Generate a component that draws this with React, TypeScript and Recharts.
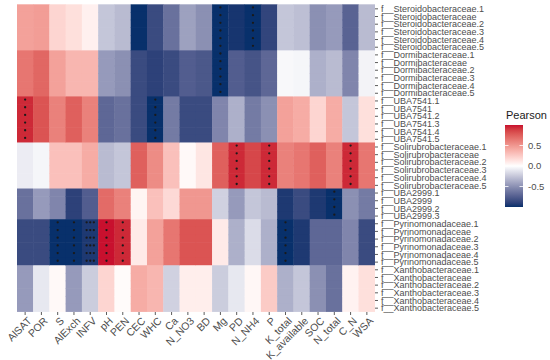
import React from 'react';
import { BarChart, Bar, XAxis, YAxis } from 'recharts';

// environmental variables (heatmap columns)
const columns = [
  'AlSAT', 'POR', 'S', 'AlExch', 'INFV', 'pH', 'PEN', 'CEC', 'WHC', 'Ca', 'N_NO3',
  'BD', 'Mg', 'PD', 'N_NH4', 'P', 'K_total', 'K_available', 'SOC', 'N_total', 'C_N', 'WSA',
];

// row labels per family, Pearson r per column, and significance marks (1 = *, 3 = ***)
const steroidoRows = [
  'f__Steroidobacteraceae.1', 'f__Steroidobacteraceae', 'f__Steroidobacteraceae.2',
  'f__Steroidobacteraceae.3', 'f__Steroidobacteraceae.4', 'f__Steroidobacteraceae.5',
];
const steroidoValues = [0.45, 0.47, 0.2, 0.15, 0.07, -0.25, -0.3, -1.0, -0.85, -0.65, -0.42, -0.5, -1.0, -0.97, -1.0, -0.88, -0.25, -0.28, -0.5, -0.45, -0.72, -0.3];
const steroidoStars = [0, 0, 0, 0, 0, 0, 0, 0, 0, 0, 0, 0, 1, 0, 1, 0, 0, 0, 0, 0, 0, 0];

const dormiRows = [
  'f__Dormibacteraceae.1', 'f__Dormibacteraceae', 'f__Dormibacteraceae.2',
  'f__Dormibacteraceae.3', 'f__Dormibacteraceae.4', 'f__Dormibacteraceae.5',
];
const dormiValues = [0.65, 0.72, 0.45, 0.35, 0.35, -0.45, -0.5, -0.85, -0.9, -0.85, -0.75, -0.78, -1.0, -0.75, -0.8, -0.7, -0.03, -0.04, -0.35, -0.3, -0.55, -0.05];
const dormiStars = [0, 0, 0, 0, 0, 0, 0, 0, 0, 0, 0, 0, 1, 0, 0, 0, 0, 0, 0, 0, 0, 0];

const uba7541Rows = [
  'f__UBA7541.1', 'f__UBA7541', 'f__UBA7541.2', 'f__UBA7541.3', 'f__UBA7541.4', 'f__UBA7541.5',
];
const uba7541Values = [0.95, 0.8, 0.6, 0.75, 0.6, -0.7, -0.65, -0.85, -1.0, -0.6, -0.85, -0.85, -0.55, -0.35, -0.6, -0.5, 0.45, 0.4, 0.2, 0.4, -0.25, 0.15];
const uba7541Stars = [1, 0, 0, 0, 0, 0, 0, 0, 1, 0, 0, 0, 0, 0, 0, 0, 0, 0, 0, 0, 0, 0];

const soliRows = [
  'f__Solirubrobacteraceae.1', 'f__Solirubrobacteraceae', 'f__Solirubrobacteraceae.2',
  'f__Solirubrobacteraceae.3', 'f__Solirubrobacteraceae.4', 'f__Solirubrobacteraceae.5',
];
const soliValues = [-0.08, -0.04, 0.3, 0.3, 0.4, -0.3, -0.25, 0.75, 0.55, 0.3, 0.03, 0.12, 0.75, 0.95, 0.85, 0.95, 0.6, 0.65, 0.75, 0.6, 0.95, 0.65];
const soliStars = [0, 0, 0, 0, 0, 0, 0, 0, 0, 0, 0, 0, 0, 1, 0, 1, 0, 0, 0, 0, 1, 0];

const uba2999Rows = ['f__UBA2999.1', 'f__UBA2999', 'f__UBA2999.2', 'f__UBA2999.3'];
const uba2999Values = [-0.65, -0.45, -0.55, -0.9, -0.75, 0.7, 0.6, 0.05, 0.3, 0.18, 0.5, 0.5, -0.2, -0.45, -0.25, -0.3, -0.95, -0.85, -0.95, -1.0, -0.5, -0.6];
const uba2999Stars = [0, 0, 0, 0, 0, 0, 0, 0, 0, 0, 0, 0, 0, 0, 0, 0, 0, 0, 0, 1, 0, 0];

const pyriRows = [
  'f__Pyrinomonadaceae.1', 'f__Pyrinomonadaceae', 'f__Pyrinomonadaceae.2',
  'f__Pyrinomonadaceae.3', 'f__Pyrinomonadaceae.4', 'f__Pyrinomonadaceae.5',
];
const pyriValues = [-0.85, -0.85, -1.0, -1.0, -0.95, 1.0, 0.95, 0.1, 0.45, 0.65, 0.8, 0.8, 0.1, -0.35, -0.15, -0.35, -1.0, -0.95, -0.7, -0.7, -0.55, -0.85];
const pyriStars = [0, 0, 1, 1, 3, 1, 1, 0, 0, 0, 0, 0, 0, 0, 0, 0, 1, 0, 0, 0, 0, 0];

const xanthoRows = [
  'f__Xanthobacteraceae.1', 'f__Xanthobacteraceae', 'f__Xanthobacteraceae.2',
  'f__Xanthobacteraceae.3', 'f__Xanthobacteraceae.4', 'f__Xanthobacteraceae.5',
];
const xanthoValues = [-0.45, -0.1, 0.03, -0.45, -0.22, 0.2, 0.02, 0.4, 0.35, -0.2, 0.08, 0.08, -0.22, -0.1, 0.04, 0.25, -0.35, -0.25, -0.5, -0.65, 0.06, 0.15];
const xanthoStars = [0, 0, 0, 0, 0, 0, 0, 0, 0, 0, 0, 0, 0, 0, 0, 0, 0, 0, 0, 0, 0, 0];

const legendTicks = [0.5, 0, -0.5];

const groups = [
  { rows: steroidoRows, values: steroidoValues, stars: steroidoStars },
  { rows: dormiRows, values: dormiValues, stars: dormiStars },
  { rows: uba7541Rows, values: uba7541Values, stars: uba7541Stars },
  { rows: soliRows, values: soliValues, stars: soliStars },
  { rows: uba2999Rows, values: uba2999Values, stars: uba2999Stars },
  { rows: pyriRows, values: pyriValues, stars: pyriStars },
  { rows: xanthoRows, values: xanthoValues, stars: xanthoStars },
];

const data = groups.flatMap(g =>
  g.rows.map(row => {
    const entry: any = { row, vals: g.values, stars: g.stars };
    columns.forEach((_, i) => { entry[`w${i}`] = 1; });
    return entry;
  })
);

// colour scale: blue - white - red, interpolated in Lab like ggplot's gradient2
const HIGH = [200, 16, 46];
const LOW = [8, 48, 107];
const WHITE_REF = [0.95047, 1, 1.08883];

function toLin(c: number) {
  const v = c / 255;
  return v <= 0.04045 ? v / 12.92 : Math.pow((v + 0.055) / 1.055, 2.4);
}
function fromLin(c: number) {
  const v = c <= 0.0031308 ? 12.92 * c : 1.055 * Math.pow(c, 1 / 2.4) - 0.055;
  return Math.round(Math.max(0, Math.min(1, v)) * 255);
}
function rgbToLab(rgb: number[]) {
  const [r, g, b] = rgb.map(toLin);
  const xyz = [
    0.4124 * r + 0.3576 * g + 0.1805 * b,
    0.2126 * r + 0.7152 * g + 0.0722 * b,
    0.0193 * r + 0.1192 * g + 0.9505 * b,
  ].map((v, i) => v / WHITE_REF[i]);
  const f = xyz.map(t => (t > 0.008856 ? Math.cbrt(t) : 7.787 * t + 16 / 116));
  return [116 * f[1] - 16, 500 * (f[0] - f[1]), 200 * (f[1] - f[2])];
}
function labToRgb(lab: number[]) {
  const fy = (lab[0] + 16) / 116;
  const fx = fy + lab[1] / 500;
  const fz = fy - lab[2] / 200;
  const inv = (t: number) => (t * t * t > 0.008856 ? t * t * t : (t - 16 / 116) / 7.787);
  const [x, y, z] = [inv(fx), inv(fy), inv(fz)].map((v, i) => v * WHITE_REF[i]);
  const r = 3.2406 * x - 1.5372 * y - 0.4986 * z;
  const g = -0.9689 * x + 1.8758 * y + 0.0415 * z;
  const b = 0.0557 * x - 0.204 * y + 1.057 * z;
  return `rgb(${fromLin(r)},${fromLin(g)},${fromLin(b)})`;
}
const labHigh = rgbToLab(HIGH);
const labLow = rgbToLab(LOW);
const labWhite = rgbToLab([255, 255, 255]);

function pearsonColor(v: number) {
  const t = Math.min(1, Math.abs(v));
  const end = v >= 0 ? labHigh : labLow;
  return labToRgb(labWhite.map((w, i) => w + (end[i] - w) * t));
}

const WIDTH = 550;
const HEIGHT = 360;
const MARGIN = { top: 5, right: 55, bottom: 0, left: 17 };
const X_AXIS_H = 48;
const Y_AXIS_W = 120;
const plotH = HEIGHT - MARGIN.top - MARGIN.bottom - X_AXIS_H;
const band = plotH / data.length;
const TEXT = '#4d4d4d';
const FONT = '"Liberation Sans", Arial, Helvetica, sans-serif';

function HeatCell(props: any) {
  const { x, y, width, height, payload, ci } = props;
  const v = payload.vals[ci];
  const n = payload.stars[ci];
  const fill = pearsonColor(v);
  const cx = x + width / 2;
  const mid = y + height / 2;
  // stretch the cell to the full row band so no seams show between rows
  const top = mid - band / 2;
  const dots = [];
  for (let k = 0; k < n; k++) {
    dots.push(<circle key={k} cx={cx + (k - (n - 1) / 2) * 3.6} cy={mid - 1} r={1.15} fill="#1a1a1a" />);
  }
  return (
    <g>
      <rect x={x - 0.2} y={top - 0.3} width={width + 0.4} height={band + 0.6} fill={fill} />
      {dots}
    </g>
  );
}

function RowTick(props: any) {
  const { x, y, payload } = props;
  return (
    <text x={x + 3} y={y} dy="0.35em" fontSize={9} fill={TEXT} fontFamily={FONT} textAnchor="start">
      {payload.value}
    </text>
  );
}

function ColTick(props: any) {
  const { x, y, payload } = props;
  const label = columns[Math.floor(payload.value)];
  return (
    <text
      transform={`translate(${x + 1.5},${y + 1}) rotate(-45)`}
      dy="0.75em"
      fontSize={10.5}
      fill={TEXT}
      fontFamily={FONT}
      textAnchor="end"
    >
      {label}
    </text>
  );
}

function Legend() {
  const barX = 505;
  const barY = 125;
  const barW = 18;
  const barH = 82;
  const yOf = (v: number) => barY + ((1 - v) / 2) * barH;
  const stops = Array.from({ length: 21 }, (_, i) => 1 - i * 0.1);
  return (
    <svg width={WIDTH} height={HEIGHT} style={{ position: 'absolute', left: 0, top: 0, pointerEvents: 'none' }}>
      <defs>
        <linearGradient id="pearson" x1="0" y1="0" x2="0" y2="1">
          {stops.map((v, i) => (
            <stop key={i} offset={`${(i / 20) * 100}%`} stopColor={pearsonColor(v)} />
          ))}
        </linearGradient>
      </defs>
      <text x={506} y={119} fontSize={11} fill="#1a1a1a" fontFamily={FONT}>Pearson</text>
      <rect x={barX} y={barY} width={barW} height={barH} fill="url(#pearson)" />
      {legendTicks.map(t => (
        <g key={t}>
          <line x1={barX} x2={barX + 3.5} y1={yOf(t)} y2={yOf(t)} stroke="#fff" strokeWidth={0.8} />
          <line x1={barX + barW - 3.5} x2={barX + barW} y1={yOf(t)} y2={yOf(t)} stroke="#fff" strokeWidth={0.8} />
          <text x={barX + barW + 5} y={yOf(t)} dy="0.35em" fontSize={9.5} fill={TEXT} fontFamily={FONT}>
            {t.toFixed(1)}
          </text>
        </g>
      ))}
    </svg>
  );
}

export default function App() {
  const colTicks = columns.map((_, i) => i + 0.5);
  return (
    <div style={{ position: 'absolute', left: 0, top: 0, width: WIDTH, height: HEIGHT, background: '#fff' }}>
      <BarChart
        width={WIDTH}
        height={HEIGHT}
        data={data}
        layout="vertical"
        margin={MARGIN}
        barCategoryGap={0}
        barGap={0}
      >
        <XAxis
          type="number"
          domain={[0, columns.length]}
          ticks={colTicks}
          interval={0}
          axisLine={false}
          tickSize={3}
          tickMargin={0}
          tickLine={{ stroke: '#333', strokeWidth: 0.8 }}
          height={X_AXIS_H}
          tick={<ColTick />}
          allowDataOverflow
        />
        <YAxis
          type="category"
          dataKey="row"
          orientation="right"
          width={Y_AXIS_W}
          interval={0}
          axisLine={false}
          tickSize={3}
          tickMargin={0}
          tickLine={{ stroke: '#333', strokeWidth: 0.8 }}
          tick={<RowTick />}
        />
        {columns.map((col, ci) => (
          <Bar
            key={col}
            dataKey={`w${ci}`}
            stackId="heat"
            barSize={band}
            isAnimationActive={false}
            shape={(p: any) => <HeatCell {...p} ci={ci} />}
          />
        ))}
      </BarChart>
      <Legend />
    </div>
  );
}
